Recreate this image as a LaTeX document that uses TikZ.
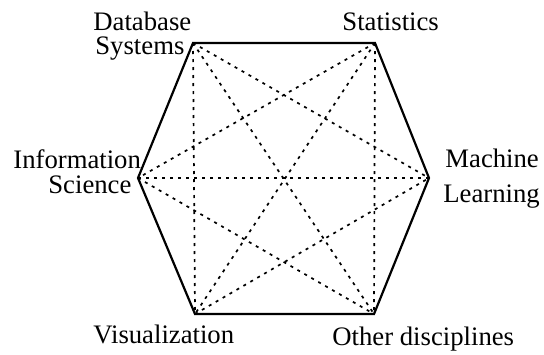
\documentclass[tikz,border=0pt]{standalone}
\usepackage{fontspec}
\setmainfont{Liberation Serif}
\begin{document}
\begin{tikzpicture}[x=0.5pt,y=-0.5pt,
  edge/.style={line width=1.1pt,line join=miter},
  link/.style={line width=0.85pt,dash pattern=on 1.5pt off 2.5pt},
  lbl/.style={inner sep=0pt,anchor=base west,font=\fontsize{13.35}{15}\selectfont}]
\useasboundingbox (0,0) rectangle (544,354);
% corners of the hexagon
\coordinate (db) at (193,43);
\coordinate (st) at (375,43);
\coordinate (ml) at (429,178);
\coordinate (od) at (374,314);
\coordinate (vi) at (195,314);
\coordinate (is) at (138,178);
% all diagonals, dotted
\foreach \a/\b in {db/ml,db/od,db/vi,st/is,st/vi,st/od,is/ml,is/od,vi/ml}
  \draw[link] (\a) -- (\b);
% outline
\draw[edge] (db) -- (st) -- (ml) -- (od) -- (vi) -- (is) -- cycle;
% labels
\node[lbl] (t1) at (93,30) {Database};
\node[lbl] (t2) at (95,54) {Systems};
\node[lbl] (t3) at (342,30) {Statistics};
\node[lbl] (t4) at (13,168) {Information};
\node[lbl] (t5) at (48,193) {Science};
\node[lbl] (t6) at (445,167) {Machine};
\node[lbl] (t7) at (443,202) {Learning};
\node[lbl] (t8) at (93,343) {Visualization};
\node[lbl] (t9) at (332,345) {Other disciplines};
\end{tikzpicture}
\end{document}
